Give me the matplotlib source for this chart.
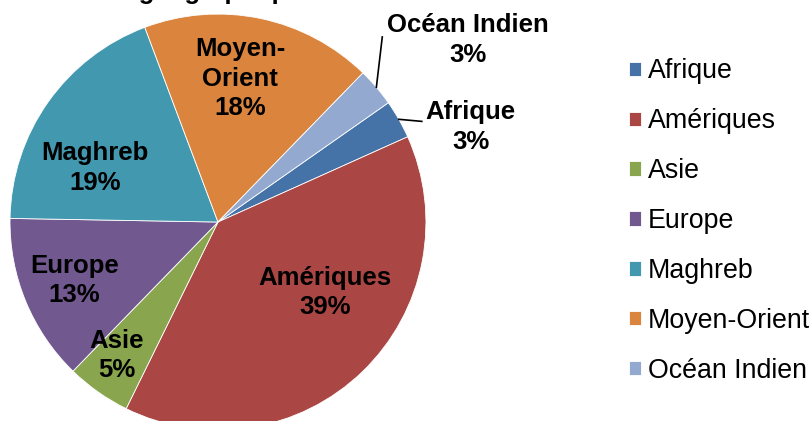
import matplotlib
matplotlib.use("Agg")
import matplotlib.pyplot as plt
import numpy as np

plt.rcParams['font.family'] = ['Liberation Sans', 'DejaVu Sans']

# data
regions = ['Afrique', 'Amériques', 'Asie', 'Europe', 'Maghreb', 'Moyen-Orient', 'Océan Indien']
pct = [3, 39, 5, 13, 19, 18, 3]
slice_labels = ['Afrique', 'Amériques', 'Asie', 'Europe', 'Maghreb', 'Moyen-\nOrient', 'Océan Indien']
colors = ['#4572A7', '#AA4643', '#89A54E', '#71588F', '#4198AF', '#DB843D', '#93A9CF']

# label spots (pie radius = 1), picked to look like the excel "best fit"
label_pos = [(1.216, 0.457), (0.514, -0.34), (-0.486, -0.64), (-0.69, -0.28),
             (-0.59, 0.26), (0.106, 0.69), (1.20, 0.875)]
outside = [True, False, False, False, False, False, True]

fig = plt.figure(figsize=(8.12, 4.21), dpi=100)
ax = fig.add_axes([0.0123, -0.0214, 0.5123, 0.988])
wedges, _ = ax.pie(pct, colors=colors, startangle=35, counterclock=False,
                   radius=1, wedgeprops=dict(edgecolor='white', linewidth=0.6))
ax.set_xlim(-1, 1)
ax.set_ylim(-1, 1)
ax.set_aspect('equal')
ax.axis('off')

for w, lab, p, pos, out in zip(wedges, slice_labels, pct, label_pos, outside):
    ax.text(pos[0], pos[1], '%s\n%d%%' % (lab, p), ha='center', va='center',
            fontsize=18.5, fontweight='bold', linespacing=1.27, clip_on=False)
    if out:
        mid = np.deg2rad((w.theta1 + w.theta2) / 2)
        x0, y0 = np.cos(mid), np.sin(mid)
        if pos[1] > 0.7:
            ax.plot([x0, 0.79], [y0, 0.89], color='black', lw=1.2, clip_on=False)
        else:
            ax.plot([x0, 0.98], [y0, y0 - 0.01], color='black', lw=1.2, clip_on=False)

# title, mostly cut off at the top like the original
fig.text(70 / 812, 1.003, 'Zone géographique', ha='left', va='baseline',
         fontsize=18.5, fontweight='bold')

fig.legend(wedges, regions, loc='center left', bbox_to_anchor=(629 / 812, 0.475),
           frameon=False, fontsize=19.3, handlelength=0.45, handleheight=0.45,
           handletextpad=0.25, labelspacing=0.89, borderpad=0, borderaxespad=0)

fig.savefig('out.png', dpi=100)
